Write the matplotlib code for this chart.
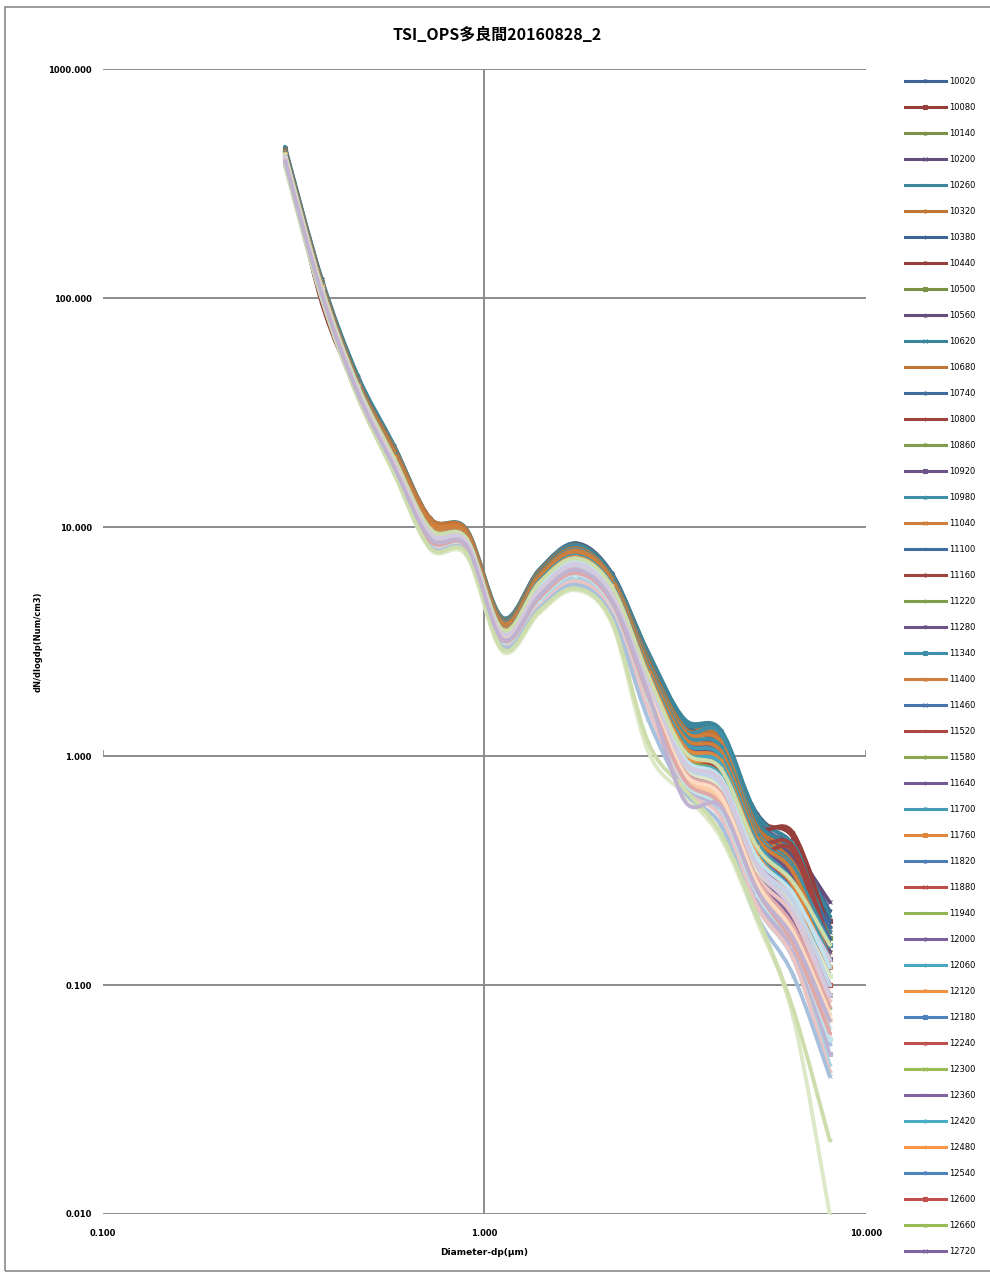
import matplotlib
matplotlib.use("Agg")
import matplotlib.pyplot as plt
from matplotlib.colors import to_rgb
from matplotlib.patches import Rectangle, PathPatch
from matplotlib.path import Path
from matplotlib.lines import Line2D
import numpy as np

# ---------------- data ----------------
diameters = [0.300, 0.374, 0.465, 0.579, 0.721, 0.897, 1.117, 1.391,
             1.732, 2.156, 2.685, 3.343, 4.162, 5.182, 6.451, 8.032]

legend_labels = ["10020", "10080", "10140", "10200", "10260", "10320",
                 "10380", "10440", "10500", "10560", "10620", "10680",
                 "10740", "10800", "10860", "10920", "10980", "11040",
                 "11100", "11160", "11220", "11280", "11340", "11400",
                 "11460", "11520", "11580", "11640", "11700", "11760",
                 "11820", "11880", "11940", "12000", "12060", "12120",
                 "12180", "12240", "12300", "12360", "12420", "12480",
                 "12540", "12600", "12660", "12720"]

values = [
    [452, 121, 45.0, 22.5, 10.9, 9.7, 3.98, 6.5, 8.5, 6.3, 2.80, 1.42, 1.18, 0.56, 0.40, 0.21],
    [448, 96, 40.0, 21.8, 10.6, 9.5, 3.90, 6.3, 8.4, 6.2, 2.72, 1.38, 1.22, 0.54, 0.44, 0.19],
    [445, 119, 44.0, 22.0, 10.7, 9.6, 3.92, 6.4, 8.3, 6.1, 2.70, 1.35, 1.15, 0.52, 0.38, 0.20],
    [450, 120, 44.5, 21.9, 10.8, 9.6, 3.85, 6.2, 8.2, 6.2, 2.75, 1.40, 1.20, 0.53, 0.39, 0.23],
    [458, 122, 46.0, 22.8, 10.9, 9.8, 4.02, 6.5, 8.4, 6.2, 2.85, 1.45, 1.30, 0.55, 0.41, 0.20],
    [446, 119, 44.0, 22.2, 10.9, 9.7, 3.95, 6.4, 8.3, 6.1, 2.70, 1.36, 1.24, 0.50, 0.37, 0.18],
    [440, 118, 43.5, 21.5, 10.5, 9.4, 3.80, 6.2, 8.1, 6.0, 2.60, 1.38, 1.10, 0.48, 0.36, 0.19],
    [442, 117, 43.0, 21.2, 10.4, 9.3, 3.75, 6.1, 8.0, 5.9, 2.55, 1.30, 1.05, 0.50, 0.46, 0.17],
    [438, 116, 43.0, 21.0, 10.3, 9.3, 3.78, 6.0, 7.9, 5.9, 2.50, 1.25, 1.00, 0.46, 0.33, 0.16],
    [436, 117, 43.5, 21.4, 10.4, 9.4, 3.82, 6.2, 8.2, 6.1, 2.65, 1.32, 1.12, 0.47, 0.35, 0.15],
    [444, 118, 44.0, 21.8, 10.6, 9.5, 3.92, 6.3, 8.3, 6.2, 2.68, 1.40, 1.28, 0.52, 0.38, 0.17],
    [441, 118, 43.8, 21.6, 10.7, 9.6, 3.88, 6.2, 8.1, 6.0, 2.62, 1.33, 1.20, 0.49, 0.34, 0.16],
    [435, 116, 43.0, 21.0, 10.3, 9.3, 3.75, 6.0, 7.9, 5.8, 2.45, 1.22, 1.00, 0.45, 0.32, 0.18],
    [432, 115, 42.5, 20.8, 10.2, 9.2, 3.70, 5.9, 7.8, 5.8, 2.42, 1.20, 0.98, 0.44, 0.40, 0.15],
    [430, 115, 42.0, 20.6, 10.1, 9.1, 3.68, 5.9, 7.7, 5.7, 2.40, 1.15, 0.95, 0.42, 0.30, 0.14],
    [434, 116, 42.8, 21.0, 10.3, 9.2, 3.72, 6.0, 7.8, 5.8, 2.45, 1.18, 1.02, 0.43, 0.31, 0.13],
    [438, 117, 43.0, 21.2, 10.5, 9.4, 3.85, 6.1, 8.0, 5.9, 2.55, 1.30, 1.25, 0.47, 0.33, 0.15],
    [436, 116, 43.0, 21.3, 10.6, 9.4, 3.80, 6.1, 7.9, 5.9, 2.50, 1.28, 1.15, 0.46, 0.32, 0.14],
    [430, 114, 42.0, 20.5, 10.0, 9.1, 3.65, 5.8, 7.6, 5.6, 2.35, 1.12, 0.92, 0.41, 0.29, 0.16],
    [428, 114, 42.0, 20.4, 10.0, 9.0, 3.62, 5.8, 7.6, 5.6, 2.32, 1.10, 0.95, 0.40, 0.38, 0.13],
    [426, 113, 41.8, 20.2, 9.9, 9.0, 3.60, 5.7, 7.5, 5.5, 2.30, 1.08, 0.90, 0.39, 0.27, 0.12],
    [429, 114, 42.0, 20.5, 10.1, 9.1, 3.66, 5.8, 7.6, 5.7, 2.38, 1.14, 0.96, 0.42, 0.30, 0.14],
    [432, 115, 42.5, 20.8, 10.3, 9.2, 3.72, 6.0, 7.8, 5.8, 2.48, 1.24, 1.10, 0.45, 0.32, 0.15],
    [430, 115, 42.4, 20.9, 10.4, 9.3, 3.75, 6.0, 7.8, 5.8, 2.45, 1.20, 1.05, 0.44, 0.31, 0.13],
    [424, 112, 41.5, 20.0, 9.8, 8.9, 3.55, 5.6, 7.4, 5.5, 2.25, 1.05, 0.88, 0.38, 0.26, 0.12],
    [422, 112, 41.2, 19.9, 9.8, 8.9, 3.52, 5.6, 7.3, 5.4, 2.22, 1.02, 0.85, 0.37, 0.27, 0.11],
    [420, 111, 41.0, 19.8, 9.7, 8.8, 3.50, 5.5, 7.2, 5.4, 2.20, 1.00, 0.82, 0.36, 0.25, 0.11],
    [423, 112, 41.3, 20.0, 9.8, 8.9, 3.55, 5.6, 7.3, 5.5, 2.25, 1.04, 0.88, 0.38, 0.26, 0.12],
    [427, 113, 41.8, 20.3, 10.0, 9.0, 3.62, 5.8, 7.5, 5.6, 2.35, 1.15, 1.00, 0.42, 0.28, 0.13],
    [425, 113, 41.6, 20.2, 10.0, 9.0, 3.60, 5.7, 7.4, 5.5, 2.30, 1.10, 0.95, 0.40, 0.27, 0.12],
    [418, 110, 40.8, 19.6, 9.6, 8.8, 3.48, 5.5, 7.1, 5.3, 2.15, 0.98, 0.80, 0.35, 0.24, 0.11],
    [416, 110, 40.5, 19.5, 9.5, 8.7, 3.45, 5.4, 7.0, 5.2, 2.12, 0.96, 0.78, 0.34, 0.23, 0.10],
    [414, 109, 40.3, 19.3, 9.5, 8.7, 3.44, 5.4, 7.0, 5.2, 2.10, 0.95, 0.76, 0.33, 0.22, 0.12],
    [417, 110, 40.6, 19.5, 9.6, 8.8, 3.46, 5.5, 7.1, 5.3, 2.14, 0.97, 0.80, 0.35, 0.23, 0.10],
    [421, 111, 41.0, 19.8, 9.8, 8.9, 3.55, 5.6, 7.3, 5.4, 2.22, 1.05, 0.92, 0.38, 0.25, 0.11],
    [419, 111, 40.9, 19.7, 9.7, 8.8, 3.52, 5.6, 7.2, 5.4, 2.20, 1.02, 0.88, 0.37, 0.24, 0.10],
    [412, 108, 40.0, 19.1, 9.4, 8.6, 3.40, 5.3, 6.9, 5.1, 2.05, 0.92, 0.75, 0.32, 0.21, 0.10],
    [410, 108, 39.8, 19.0, 9.3, 8.6, 3.38, 5.3, 6.8, 5.1, 2.02, 0.90, 0.73, 0.31, 0.20, 0.12],
    [408, 107, 39.6, 18.9, 9.2, 8.5, 3.36, 5.2, 6.8, 5.0, 2.00, 0.89, 0.72, 0.31, 0.20, 0.09],
    [411, 108, 39.9, 19.0, 9.3, 8.6, 3.38, 5.3, 6.9, 5.1, 2.04, 0.91, 0.74, 0.32, 0.21, 0.10],
    [414, 109, 40.2, 19.3, 9.5, 8.7, 3.45, 5.4, 7.0, 5.2, 2.10, 0.96, 0.82, 0.34, 0.22, 0.10],
    [413, 109, 40.1, 19.2, 9.4, 8.7, 3.42, 5.4, 7.0, 5.2, 2.08, 0.94, 0.80, 0.33, 0.22, 0.09],
    [406, 107, 39.4, 18.8, 9.1, 8.5, 3.34, 5.2, 6.7, 5.0, 1.98, 0.88, 0.70, 0.30, 0.19, 0.09],
    [404, 106, 39.2, 18.7, 9.1, 8.4, 3.32, 5.1, 6.6, 4.9, 1.95, 0.86, 0.69, 0.29, 0.19, 0.10],
    [402, 106, 39.0, 18.6, 9.0, 8.4, 3.30, 5.1, 6.6, 4.9, 1.93, 0.85, 0.68, 0.29, 0.18, 0.08],
    [405, 107, 39.3, 18.8, 9.1, 8.5, 3.33, 5.2, 6.7, 5.0, 1.97, 0.87, 0.70, 0.30, 0.19, 0.09],
    # later series (not listed in the legend)
    [400, 105, 38.8, 18.4, 8.9, 8.3, 3.25, 5.0, 6.5, 4.8, 1.90, 0.84, 0.66, 0.28, 0.17, 0.075],
    [398, 105, 38.6, 18.3, 8.8, 8.3, 3.22, 4.9, 6.4, 4.8, 1.88, 0.82, 0.64, 0.27, 0.16, 0.070],
    [396, 104, 38.5, 18.2, 8.8, 8.2, 3.20, 4.9, 6.3, 4.7, 1.85, 0.80, 0.62, 0.26, 0.16, 0.065],
    [401, 105, 38.9, 18.5, 8.9, 8.3, 3.26, 5.0, 6.5, 4.8, 1.92, 0.85, 0.68, 0.30, 0.20, 0.085],
    [410, 108, 39.5, 18.9, 9.2, 8.5, 3.35, 5.2, 6.7, 5.0, 2.00, 0.90, 0.72, 0.32, 0.22, 0.110],
    [415, 109, 40.0, 19.2, 9.4, 8.6, 3.42, 5.3, 6.9, 5.1, 2.05, 0.93, 0.76, 0.34, 0.24, 0.130],
    [420, 111, 40.8, 19.6, 9.6, 8.8, 3.50, 5.5, 7.1, 5.3, 2.15, 0.98, 0.80, 0.36, 0.25, 0.120],
    [394, 104, 38.3, 18.1, 8.7, 8.1, 3.18, 4.8, 6.2, 4.6, 1.82, 0.78, 0.60, 0.25, 0.15, 0.060],
    [392, 103, 38.1, 18.0, 8.6, 8.1, 3.15, 4.8, 6.1, 4.6, 1.80, 0.76, 0.58, 0.24, 0.14, 0.055],
    [405, 106, 39.2, 18.7, 9.0, 8.4, 3.30, 5.1, 6.6, 4.9, 1.95, 0.86, 0.69, 0.29, 0.18, 0.080],
    [425, 112, 41.5, 20.0, 9.8, 8.9, 3.55, 5.7, 7.3, 5.5, 2.25, 1.05, 0.88, 0.40, 0.28, 0.150],
    [390, 103, 38.0, 17.9, 8.5, 8.0, 3.12, 4.7, 6.0, 4.5, 1.75, 0.74, 0.56, 0.23, 0.14, 0.050],
    [388, 102, 37.8, 17.8, 8.4, 7.9, 3.10, 4.6, 5.9, 4.4, 1.70, 0.72, 0.55, 0.22, 0.13, 0.045],
    [397, 104, 38.6, 18.3, 8.8, 8.2, 3.22, 4.9, 6.4, 4.7, 1.86, 0.81, 0.63, 0.27, 0.17, 0.070],
    [408, 107, 39.7, 19.0, 9.3, 8.6, 3.38, 5.3, 6.8, 5.0, 2.02, 0.92, 0.75, 0.33, 0.23, 0.100],
    [386, 102, 37.6, 17.6, 8.3, 7.9, 3.05, 4.5, 5.8, 4.3, 1.62, 0.72, 0.54, 0.22, 0.13, 0.042],
    [378, 100, 37.0, 17.1, 8.0, 7.5, 2.85, 4.2, 5.3, 3.8, 1.05, 0.68, 0.44, 0.19, 0.072, 0.010],
    [412, 108, 40.0, 19.1, 9.4, 8.6, 3.40, 5.3, 6.9, 5.1, 2.05, 0.94, 0.78, 0.33, 0.21, 0.090],
    [393, 103, 38.2, 18.0, 8.6, 8.1, 3.16, 4.8, 6.2, 4.6, 1.80, 0.77, 0.59, 0.25, 0.15, 0.058],
    [402, 106, 38.9, 18.5, 8.9, 8.3, 3.27, 5.0, 6.5, 4.8, 1.91, 0.84, 0.67, 0.28, 0.17, 0.075],
    [384, 101, 37.4, 17.5, 8.2, 7.8, 3.00, 4.4, 5.6, 4.1, 1.45, 0.70, 0.50, 0.20, 0.11, 0.040],
    [395, 104, 38.4, 18.2, 8.7, 8.2, 3.20, 4.9, 6.3, 4.7, 1.84, 0.79, 0.61, 0.26, 0.15, 0.062],
    [382, 101, 37.2, 17.3, 8.1, 7.7, 2.92, 4.3, 5.4, 3.9, 1.15, 0.72, 0.46, 0.20, 0.078, 0.021],
    [399, 105, 38.7, 18.4, 8.9, 8.3, 3.24, 5.0, 6.5, 4.8, 1.89, 0.64, 0.60, 0.26, 0.16, 0.070],
]

title_text = "TSI_OPS多良間20160828_2"
x_label = "Diameter-dp(μm)"
y_label = "dN/dlogdp(Num/cm3)"
y_ticks = [0.01, 0.1, 1, 10, 100, 1000]
y_tick_labels = ["0.010", "0.100", "1.000", "10.000", "100.000", "1000.000"]
x_ticks = [0.1, 1, 10]
x_tick_labels = ["0.100", "1.000", "10.000"]

# ---------------- style ----------------
accents = ["#4F81BD", "#C0504D", "#9BBB59", "#8064A2", "#4BACC6", "#F79646"]
marker_cycle = ["v", "s", "^", "x", "*", "o", "+"]
legend_shade = [0.78, 0.78, 0.84, 0.84, 0.9, 0.97, 1.0, 1.0]
grid_color = "#8C8C8C"
LW = 2.8


def series_color(i):
    base = np.array(to_rgb(accents[i % 6]))
    g = i // 6
    if i < len(legend_labels):
        return tuple(base * legend_shade[g])
    tint = 0.66 if g % 2 == 0 else 0.5
    return tuple(base + (1 - base) * tint)


def smooth_path(xs, ys):
    """Excel-like smoothed line: Catmull-Rom spline in log-log space,
    returned as cubic Bezier control points in data coordinates."""
    lx = np.log10(np.asarray(xs, float))
    ly = np.log10(np.asarray(ys, float))
    P = np.column_stack([lx, ly])
    n = len(P)
    verts = [P[0]]
    codes = [Path.MOVETO]
    for k in range(n - 1):
        p0 = P[k - 1] if k > 0 else P[k]
        p1 = P[k]
        p2 = P[k + 1]
        p3 = P[k + 2] if k + 2 < n else P[k + 1]
        c1 = p1 + (p2 - p0) / 6.0
        c2 = p2 - (p3 - p1) / 6.0
        verts += [c1, c2, p2]
        codes += [Path.CURVE4] * 3
    verts = 10 ** np.array(verts)
    return Path(verts, codes)


plt.rcParams["font.family"] = ["DejaVu Sans"]

fig = plt.figure(figsize=(9.9, 12.74), dpi=100)
ax = fig.add_axes([0.104, 0.0471, 0.7707, 0.8987])

handles = []
for i, row in enumerate(values):
    col = series_color(i)
    mk = marker_cycle[i % len(marker_cycle)]
    patch = PathPatch(smooth_path(diameters, row), fill=False, edgecolor=col,
                      lw=LW, joinstyle="round", capstyle="round", zorder=3)
    ax.add_patch(patch)
    ax.plot(diameters, row, linestyle="none", marker=mk, ms=2.2, mew=0.8,
            color=col, zorder=3)
    handles.append(Line2D([], [], color=col, lw=2.2, marker=mk, ms=2.2,
                          mew=0.8))

ax.set_xscale("log")
ax.set_yscale("log")
ax.set_xlim(0.1, 10)
ax.set_ylim(0.01, 1000)
for s in ax.spines.values():
    s.set_visible(False)

ax.set_yticks(y_ticks)
ax.set_yticklabels(y_tick_labels)
ax.set_xticks(x_ticks)
ax.set_xticklabels(x_tick_labels)
ax.minorticks_off()
ax.tick_params(axis="both", length=0, labelsize=6)
ax.tick_params(axis="y", pad=8)
ax.tick_params(axis="x", pad=11)
for t in ax.get_xticklabels() + ax.get_yticklabels():
    t.set_fontweight("bold")

ax.grid(axis="y", which="major", color=grid_color, lw=1.4, zorder=1)
ax.set_axisbelow(True)
ax.axvline(1, color=grid_color, lw=1.4, zorder=1)
ax.vlines(x_ticks[::2], 1, 1.06, color=grid_color, lw=1.2, zorder=1)

ax.set_xlabel(x_label, fontsize=6.5, fontweight="bold", labelpad=7)
ax.set_ylabel(y_label, fontsize=6, fontweight="bold", labelpad=4)

fig.text(0.502, 0.9725, title_text, ha="center", va="center",
         fontsize=11.5, fontweight="bold",
         family=["Noto Sans CJK JP", "DejaVu Sans"])

fig.legend(handles[:len(legend_labels)], legend_labels, loc="upper left",
           bbox_to_anchor=(0.914, 0.9395), frameon=False, fontsize=6,
           handlelength=4.9, handletextpad=0.45, labelspacing=2.04,
           borderpad=0, borderaxespad=0)

fig.add_artist(Rectangle((0.005, 0.002), 1.2, 0.9925, transform=fig.transFigure,
                         fill=False, edgecolor="#8A8A8A", lw=1.2))

fig.savefig("out.png", dpi=100)
